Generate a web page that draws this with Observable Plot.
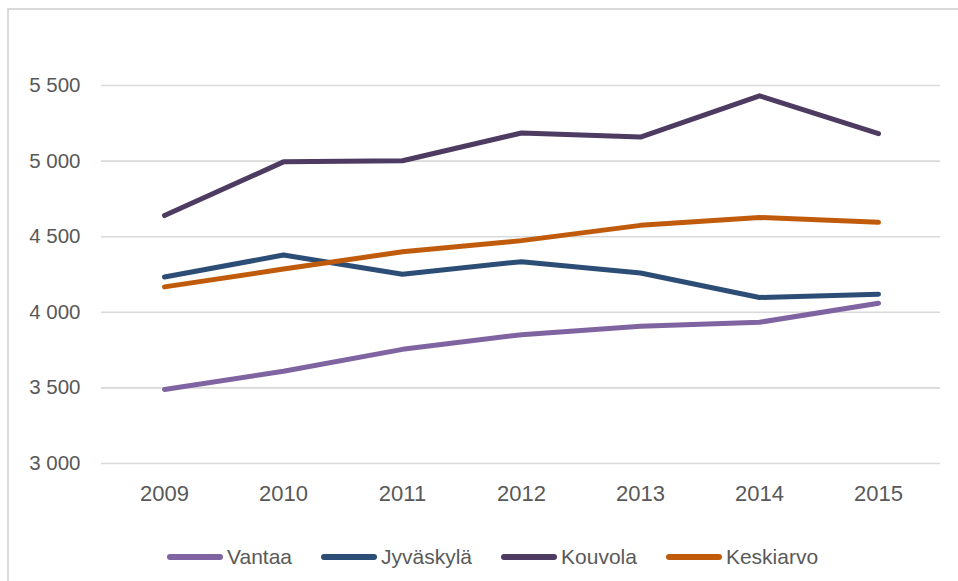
<!DOCTYPE html>
<html><head><meta charset="utf-8">
<script src="https://cdn.jsdelivr.net/npm/d3@7"></script>
<script src="https://cdn.jsdelivr.net/npm/@observablehq/plot@0.6"></script>
<style>
body{margin:0;background:#fff;overflow:hidden;width:958px;height:581px;position:relative;font-family:"Liberation Sans",Arial,sans-serif;}
#frame{position:absolute;left:7px;top:8px;width:2000px;height:2000px;border-top:2px solid #d9d9d9;border-left:2px solid #d9d9d9;pointer-events:none;}
#legend{height:61px;display:flex;align-items:center;padding-left:167px;box-sizing:border-box;padding-top:13px;}
.item{display:flex;align-items:center;margin-right:29px;}
.sw{width:56px;height:6px;border-radius:3px;margin-right:4px;}
.lt{font-size:21px;line-height:22px;color:#595959;white-space:nowrap;}
</style></head>
<body>
<div id="chart"></div>
<div id="legend"></div>
<div id="frame"></div>
<script>
const years = [2009, 2010, 2011, 2012, 2013, 2014, 2015];
const vantaa    = [3490, 3610, 3755, 3852, 3907, 3934, 4060];
const jyvaskyla = [4233, 4379, 4252, 4335, 4260, 4098, 4120];
const kouvola   = [4640, 4995, 5002, 5186, 5159, 5432, 5181];
const keskiarvo = [4168, 4286, 4400, 4474, 4575, 4627, 4595];
const seriesNames = ["Vantaa", "Jyväskylä", "Kouvola", "Keskiarvo"];
const seriesValues = [vantaa, jyvaskyla, kouvola, keskiarvo];
const seriesColors = ["#8064a2", "#2c4d75", "#4d3b62", "#c05b0c"];
const yTicks = [3000, 3500, 4000, 4500, 5000, 5500];

const data = seriesNames.flatMap((name, i) =>
  years.map((year, j) => ({name, year, value: seriesValues[i][j]})));

const fmt = v => d3.format(",")(v).replace(/,/g, "\u00a0");

const chart = Plot.plot({
  width: 958,
  height: 520,
  marginLeft: 101,
  marginRight: 18,
  marginTop: 85,
  marginBottom: 57,
  style: {fontFamily: "'Liberation Sans', Arial, sans-serif", fontSize: "20.5px", color: "#595959", background: "transparent", overflow: "visible"},
  x: {type: "point", domain: years, padding: 0.5},
  y: {domain: [3000, 5500]},
  color: {domain: seriesNames, range: seriesColors},
  marks: [
    Plot.ruleY(yTicks, {stroke: "#d9d9d9", strokeWidth: 1.6}),
    Plot.axisX({label: null, tickSize: 0, tickPadding: 22, fontSize: 22, tickFormat: d => String(d), fill: "#595959"}),
    Plot.axisY(yTicks, {label: null, tickSize: 0, tickPadding: 21, fontSize: 20.5, tickFormat: fmt, fill: "#595959"}),
    Plot.lineY(data, {x: "year", y: "value", z: "name", stroke: "name", strokeWidth: 5, strokeLinecap: "round", strokeLinejoin: "round"})
  ]
});
document.getElementById("chart").appendChild(chart);

// legend
const legend = d3.select("#legend");
seriesNames.forEach((name, i) => {
  const item = legend.append("div").attr("class", "item");
  item.append("div").attr("class", "sw").style("background", seriesColors[i]);
  item.append("span").attr("class", "lt").text(name);
});
</script>
</body></html>
